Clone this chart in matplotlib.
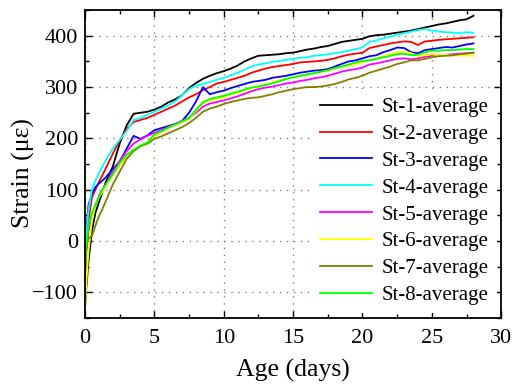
import matplotlib
matplotlib.use("Agg")
import matplotlib.pyplot as plt
from matplotlib.ticker import MultipleLocator

days = [0, 0.1, 0.25, 0.5, 0.75, 1.0, 1.25, 1.5, 2.0, 2.5, 3.0, 3.5, 4.0, 4.5, 5.0,
        5.5, 6, 6.5, 7, 7.5, 8, 8.5, 9, 9.5, 10, 10.5, 11, 11.5, 12, 12.5, 13,
        13.5, 14, 14.5, 15, 15.5, 16, 16.5, 17, 17.5, 18, 18.5, 19, 19.5, 20,
        20.5, 21, 21.5, 22, 22.5, 23, 23.5, 24, 24.5, 25, 25.5, 26, 26.5, 27,
        27.5, 28]

st1 = [-128, -90, -40, 20, 55, 75, 95, 115, 145, 190, 225, 248, 250, 252, 256,
       262, 270, 276, 284, 298, 308, 316, 322, 327, 331, 336, 342, 350, 356, 361, 362,
       363, 364, 366, 367, 370, 373, 375, 378, 380, 384, 388, 390, 392, 394,
       399, 401, 402, 404, 406, 408, 410, 413, 416, 419, 422, 424, 427, 430, 432, 439]
st2 = [-80, -20, 40, 85, 100, 115, 128, 142, 170, 196, 218, 232, 236, 240, 246,
       252, 258, 264, 272, 280, 286, 294, 300, 307, 310, 314, 318, 322, 328, 332, 336,
       339, 341, 343, 345, 348, 349, 350, 351, 353, 356, 360, 363, 365, 367,
       376, 379, 382, 385, 387, 389, 388, 382, 389, 390, 392, 393, 394, 395, 396, 397]
st3 = [-40, 20, 70, 92, 105, 112, 118, 124, 140, 155, 180, 205, 199, 206, 216,
       220, 224, 228, 234, 250, 272, 300, 286, 290, 293, 298, 302, 306, 310, 312, 314,
       318, 320, 322, 325, 328, 330, 332, 333, 335, 340, 345, 350, 352, 356,
       360, 362, 368, 372, 377, 376, 368, 366, 372, 374, 376, 378, 377, 380, 383, 385]
st4 = [-50, 10, 60, 100, 118, 132, 145, 158, 180, 197, 214, 236, 240, 246, 252,
       258, 264, 272, 284, 296, 303, 306, 310, 314, 318, 323, 328, 334, 340, 344, 346,
       349, 351, 353, 355, 357, 358, 361, 362, 364, 366, 368, 371, 374, 377,
       388, 391, 395, 398, 402, 405, 408, 411, 413, 410, 408, 407, 406, 405, 407, 406]
st5 = [-60, -20, 20, 45, 70, 88, 100, 110, 135, 155, 175, 190, 198, 205, 211,
       216, 222, 228, 234, 240, 250, 262, 268, 271, 274, 278, 282, 287, 292, 296, 299,
       301, 304, 307, 309, 312, 314, 317, 319, 322, 326, 330, 333, 335, 338,
       344, 346, 349, 352, 355, 356, 354, 356, 359, 361, 362, 363, 364, 365, 366, 367]
st6 = [-130, -80, -20, 40, 70, 85, 95, 108, 128, 148, 164, 176, 184, 190, 205,
       212, 220, 226, 232, 238, 254, 268, 274, 277, 280, 285, 289, 293, 298, 300, 304,
       309, 313, 316, 319, 322, 324, 327, 329, 332, 336, 339, 342, 345, 348,
       353, 356, 360, 364, 367, 370, 366, 360, 362, 364, 362, 363, 361, 362, 361, 361]
st7 = [-50, 0, 5, 10, 30, 48, 62, 78, 110, 135, 160, 175, 185, 190, 199,
       204, 210, 216, 222, 230, 240, 252, 258, 262, 267, 271, 274, 277, 279, 280, 283,
       286, 290, 293, 296, 298, 300, 300, 301, 303, 306, 310, 315, 318, 322,
       328, 332, 336, 340, 345, 348, 352, 352, 355, 358, 360, 361, 362, 364, 365, 367]
st8 = [-60, -10, 30, 55, 70, 85, 100, 110, 130, 152, 168, 178, 186, 192, 208,
       214, 221, 227, 233, 240, 256, 270, 277, 280, 283, 287, 291, 295, 299, 301, 304,
       307, 311, 316, 319, 322, 325, 327, 330, 333, 337, 340, 344, 348, 351,
       352, 355, 358, 361, 364, 365, 362, 363, 368, 371, 371, 372, 372, 373, 374, 374]

series = [st1, st2, st3, st4, st5, st6, st7, st8]
labels = ["St-1-average", "St-2-average", "St-3-average", "St-4-average",
          "St-5-average", "St-6-average", "St-7-average", "St-8-average"]
colors = ["#000000", "#ff0000", "#0000ff", "#00ffff", "#ff00ff", "#ffff00",
          "#808000", "#00ff00"]

plt.rcParams['font.family'] = ['Liberation Serif', 'DejaVu Serif']

fig = plt.figure(figsize=(5.12, 3.87), dpi=100)
ax = fig.add_axes([0.166, 0.178, 0.813, 0.796])

for y, lab, c in zip(series, labels, colors):
    ax.plot(days, y, color=c, lw=1.3, label=lab)

ax.set_xlim(0, 30)
ax.set_ylim(-150, 450)
ax.xaxis.set_major_locator(MultipleLocator(5))
ax.xaxis.set_minor_locator(MultipleLocator(2.5))
ax.yaxis.set_major_locator(MultipleLocator(100))
ax.yaxis.set_minor_locator(MultipleLocator(50))
ax.tick_params(which='both', direction='in', top=True, right=True, labelsize=16, width=1)
ax.tick_params(which='major', length=5)
ax.tick_params(which='minor', length=3)
ax.tick_params(axis='x', which='major', pad=8)
ax.tick_params(axis='y', which='major', pad=5)
ax.grid(True, which='major', linestyle=(0, (1, 4)), color='#808080', lw=1)
for s in ax.spines.values():
    s.set_linewidth(1.3)

ax.set_xlabel("Age (days)", fontsize=18.5, labelpad=8)
ax.set_ylabel("Strain (\u03bc\u03b5)", fontsize=18.5)
ax.yaxis.set_label_coords(-0.12, 0.47)

leg = ax.legend(loc='lower right', frameon=True, fancybox=False, framealpha=1,
                facecolor='white', edgecolor='none', fontsize=15, handlelength=2.5,
                labelspacing=0.35, borderaxespad=0.0, handletextpad=0.45,
                borderpad=0.4, bbox_to_anchor=(0.99, 0.015))

fig.savefig("out.png", dpi=100)
